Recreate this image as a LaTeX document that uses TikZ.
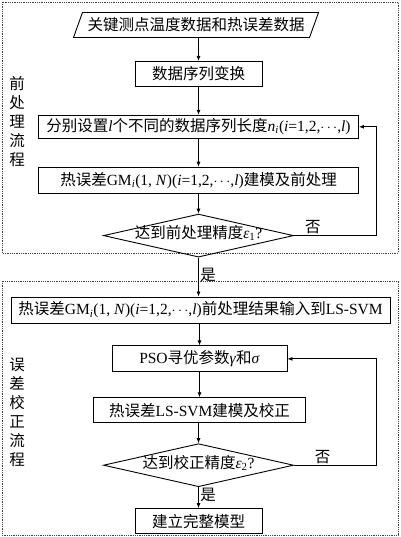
\documentclass[tikz,border=0pt]{standalone}
\usepackage{fontspec}
\setmainfont{Liberation Serif}
\newfontfamily\zh{Noto Sans CJK SC}
\usepackage{tikz}
\usetikzlibrary{positioning,arrows.meta,shapes.geometric}

\begin{document}
\begin{tikzpicture}[
    font=\fontsize{15.5}{18}\selectfont,
    box/.style={draw=black, line width=0.9pt, align=center, inner sep=2pt,
                minimum height=25pt, fill=white},
    para/.style={draw=black, line width=0.9pt, trapezium, trapezium left angle=64,
                 trapezium right angle=116, trapezium stretches body,
                 minimum width=245pt, minimum height=25pt, inner sep=2pt, font=\fontsize{15.5}{18}\zh},
    dec/.style={draw=black, line width=0.9pt, diamond, aspect=4.4, inner sep=0pt,
                text height=9pt, text depth=3pt, minimum width=190pt, minimum height=43pt},
    frame/.style={black!75, line width=0.8pt, densely dotted},
    side/.style={align=center, font=\fontsize{15.5}{19}\zh},
    lbl/.style={inner sep=1.5pt, font=\fontsize{15.5}{18}\zh},
    arrow/.style={-{Latex[length=5pt,width=4pt]}, line width=0.8pt},
  ]
    \useasboundingbox (0,0) rectangle (400pt,537pt);
    \draw[frame] (2pt,535pt) rectangle (398pt,284pt);
    \draw[frame] (2pt,256pt) rectangle (398pt,2pt);

    \node[para] (src) at (196pt,512pt) {关键测点温度数据和热误差数据};
    \node[box, minimum width=127pt, below=23pt of src, xshift=2.5pt] (conv) {{\zh 数据序列变换}};
    \node[box, minimum width=320pt, minimum height=23pt, below=28pt of conv] (len)
       {{\zh 分别设置}\textit{l}{\zh 个不同的数据序列长度}\textit{n}\textsubscript{\textit{i}}(\textit{i}=1,2,$\cdots$,\textit{l})};
    \node[box, minimum width=320pt, minimum height=26pt, below=28pt of len] (gm)
       {{\zh 热误差}GM\textsubscript{\textit{i}}(1, \textit{N})(\textit{i}=1,2,$\cdots$,\textit{l}){\zh 建模及前处理}};
    \node[dec, below=20pt of gm] (chk1) {{\zh 达到前处理精度}\textit{ε}\textsubscript{1}?};
    \node[box, minimum width=379pt, minimum height=26pt, below=39pt of chk1, xshift=2pt] (feed)
       {{\zh 热误差}GM\textsubscript{\textit{i}}(1, \textit{N})(\textit{i}=1,2,$\cdots$,\textit{l}){\zh 前处理结果输入到}LS-SVM};
    \node[box, minimum width=175pt, minimum height=26pt, below=22pt of feed, xshift=-1pt] (pso)
       {PSO{\zh 寻优参数}\textit{γ}{\zh 和}\textit{σ}};
    \node[box, minimum width=212pt, below=25pt of pso] (svm) {{\zh 热误差}LS-SVM{\zh 建模及校正}};
    \node[dec, below=20pt of svm, xshift=-1pt] (chk2) {{\zh 达到校正精度}\textit{ε}\textsubscript{2}?};
    \node[box, minimum width=127pt, below=21pt of chk2] (model) {{\zh 建立完整模型}};

    \node[side] (pre) at (17pt,415pt) {前\\处\\理\\流\\程};
    \node[side] (cor) at (17pt,125pt) {误\\差\\校\\正\\流\\程};

    \coordinate (rail) at ([xshift=17pt]len.east);

    \draw[arrow] (src.south -| conv.north) -- (conv);
    \draw[arrow] (conv) -- (len);
    \draw[arrow] (len) -- (gm);
    \draw[arrow] (gm) -- (chk1);
    \draw[arrow] (chk1.south) -- node[lbl, right, pos=0.45] {是} (chk1.south |- feed.north);
    \draw[arrow] (chk1.east) -- node[lbl, above, pos=0.23] {否} (chk1.east -| rail) -- (rail) -- (len.east);
    \draw[arrow] (feed.south -| pso.north) -- (pso.north);
    \draw[arrow] (pso) -- (svm);
    \draw[arrow] (svm.south -| chk2.north) -- (chk2.north);
    \draw[arrow] (chk2.south) -- node[lbl, right, pos=0.35] {是} (chk2.south |- model.north);
    \draw[arrow] (chk2.east) -- node[lbl, above, pos=0.35] {否} (chk2.east -| rail) |- (pso.east);
  \end{tikzpicture}
\end{document}
